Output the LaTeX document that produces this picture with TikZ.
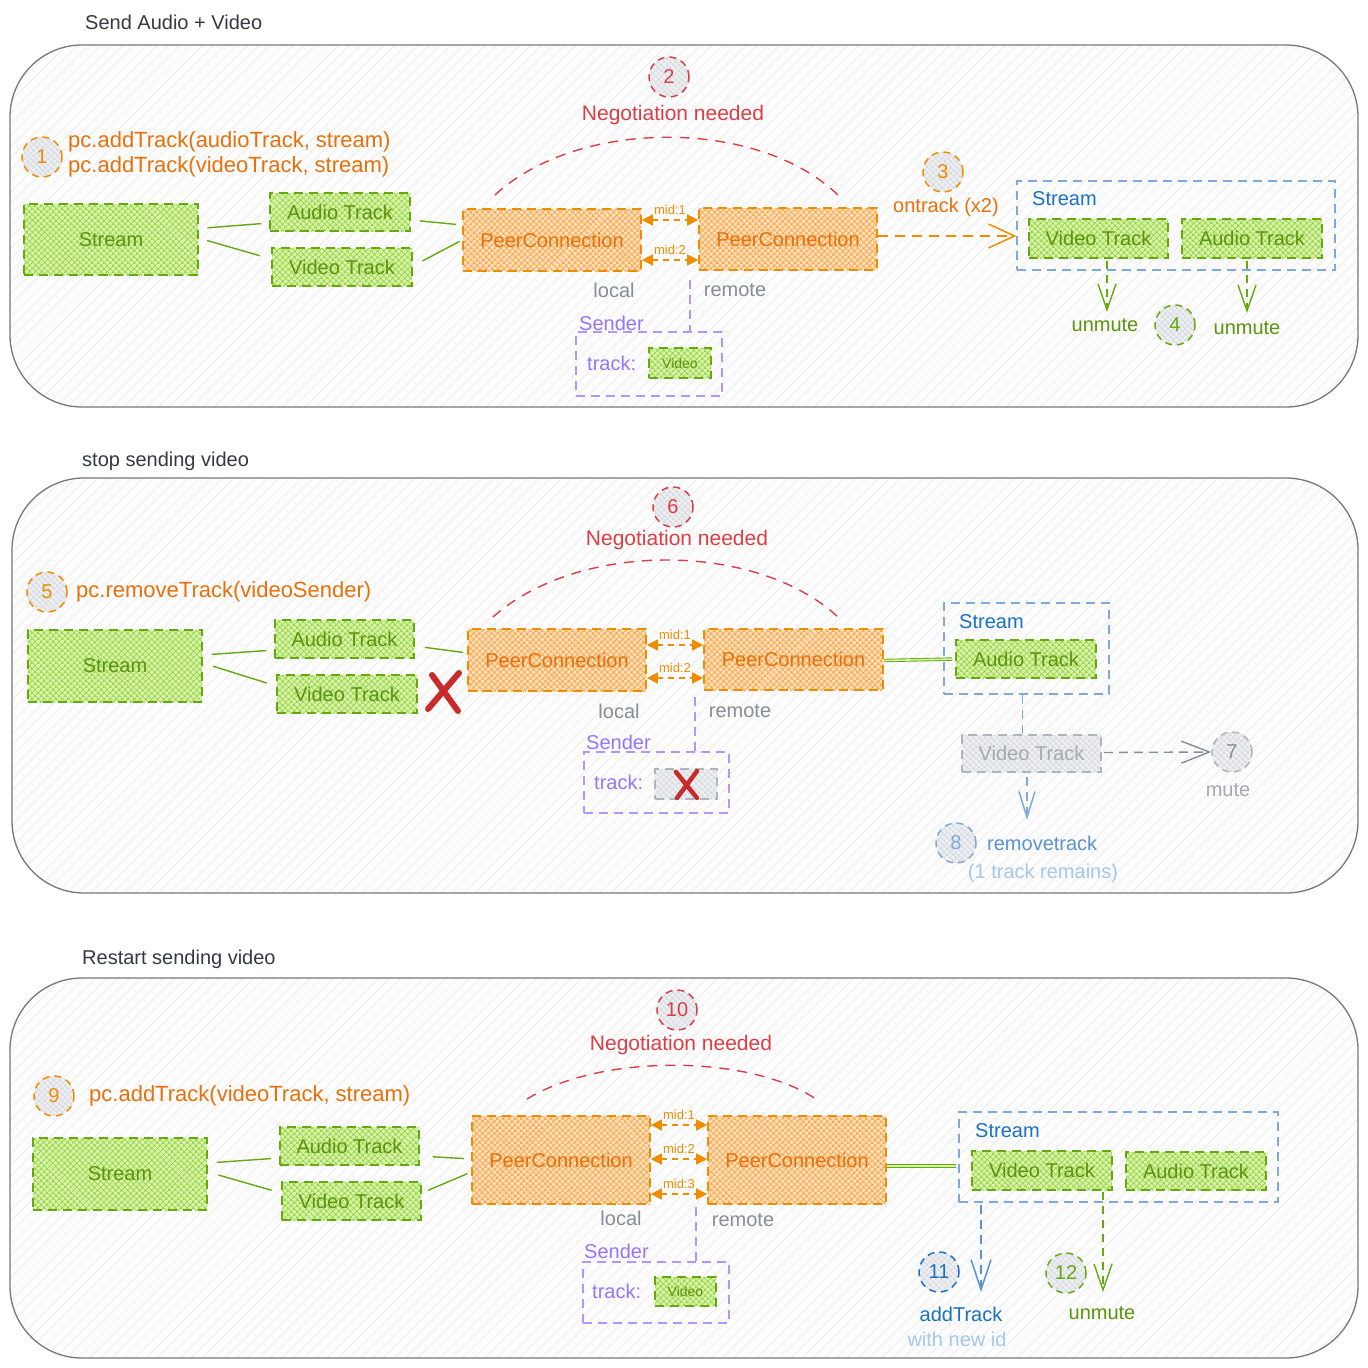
\documentclass[tikz,border=0pt]{standalone}
\usepackage{fontspec}
\setmainfont{Liberation Sans}
\usetikzlibrary{arrows.meta,patterns.meta,calc}
\definecolor{gstroke}{HTML}{66A80F}
\definecolor{gtext}{HTML}{5C940D}
\definecolor{gbase}{HTML}{D6F2A8}
\definecolor{gpat}{HTML}{94D23F}
\definecolor{ostroke}{HTML}{F08C00}
\definecolor{otext}{HTML}{E8700A}
\definecolor{obase}{HTML}{FFDDB5}
\definecolor{opat}{HTML}{FFA043}
\definecolor{nred}{HTML}{DC3E45}
\definecolor{xred}{HTML}{C92A2A}
\definecolor{bstroke}{HTML}{7FA9DB}
\definecolor{btext}{HTML}{1971C2}
\definecolor{bmid}{HTML}{5B93CF}
\definecolor{blight}{HTML}{A5C8EC}
\definecolor{pstroke}{HTML}{B197FC}
\definecolor{ptext}{HTML}{9775FA}
\definecolor{gtxt}{HTML}{868E96}
\definecolor{graystroke}{HTML}{ADB5BD}
\definecolor{graytext}{HTML}{A4AAB0}
\definecolor{cbase}{HTML}{ECEEF1}
\definecolor{cpat}{HTML}{D3D7DC}
\definecolor{panelline}{HTML}{777777}
\definecolor{panelbase}{HTML}{FCFCFC}
\definecolor{panelpat}{HTML}{E8E8E8}
\definecolor{titletext}{HTML}{343A40}
\newcommand\fz[1]{\fontsize{#1}{#1}\selectfont}
\tikzset{
 panel/.style={draw=panelline, line width=1.3pt, rounded corners=72pt, preaction={fill=panelbase}, pattern={Lines[angle=45,distance=8pt,line width=0.5pt]}, pattern color=panelpat},
 hbox/.style={rectangle, line width=1.6pt, dash pattern=on 9pt off 6pt, inner sep=0pt, font=\fz{20}},
 gbx/.style={hbox, draw=gstroke, text=gtext, preaction={fill=gbase}, pattern={Hatch[angle=45,distance=4pt,line width=0.8pt]}, pattern color=gpat},
 obx/.style={hbox, draw=ostroke, text=otext, preaction={fill=obase}, pattern={Hatch[angle=45,distance=4pt,line width=0.8pt]}, pattern color=opat},
 graybx/.style={hbox, draw=graystroke, text=graytext, preaction={fill=cbase}, pattern={Hatch[angle=45,distance=4pt,line width=0.6pt]}, pattern color=cpat},
 bluebx/.style={rectangle, draw=bstroke, line width=1.4pt, dash pattern=on 9pt off 6pt, inner sep=0pt},
 sendbx/.style={rectangle, draw=pstroke, line width=1.4pt, dash pattern=on 9pt off 6pt, inner sep=0pt},
 numc/.style={circle, draw=#1, text=#1, line width=1.5pt, dash pattern=on 7pt off 5pt, minimum size=40pt, inner sep=0pt, font=\fz{20}, preaction={fill=cbase}, pattern={Hatch[angle=45,distance=4pt,line width=0.6pt]}, pattern color=cpat},
 lbl/.style={font=\fz{20}, inner sep=0pt},
 codelbl/.style={font=\fontsize{22}{25}\selectfont, inner sep=0pt, text=otext},
 neglbl/.style={font=\fz{21}, inner sep=0pt, text=nred},
 mlabel/.style={font=\fz{13}, text=ostroke, inner sep=0pt},
 conn/.style={draw=gstroke, line width=1.4pt},
 dconn/.style={draw=gstroke, line width=0.9pt, double=gbase, double distance=1.6pt},
 midarr/.style={draw=ostroke, line width=1.4pt, dash pattern=on 6pt off 5pt, {Triangle[length=11pt,width=11pt]}-{Triangle[length=11pt,width=11pt]}},
 oarr/.style={draw=ostroke, line width=1.5pt, dash pattern=on 10pt off 7pt, -{Straight Barb[length=26pt,width=24pt]}},
 garr/.style={draw=gstroke, line width=1.4pt, dash pattern=on 8pt off 6pt, -{Straight Barb[length=26pt,width=18pt]}},
 grarr/.style={draw=gtxt, line width=1.4pt, dash pattern=on 9pt off 6pt, -{Straight Barb[length=28pt,width=22pt]}},
 barr/.style={draw=bstroke, line width=1.5pt, dash pattern=on 9pt off 6pt, -{Straight Barb[length=26pt,width=16pt]}},
 bdarr/.style={draw=bmid, line width=1.5pt, dash pattern=on 9pt off 6pt, -{Straight Barb[length=30pt,width=20pt]}},
 bline/.style={draw=bstroke, line width=1.5pt, dash pattern=on 9pt off 6pt},
 pline/.style={draw=pstroke, line width=1.4pt, dash pattern=on 9pt off 6pt},
 negarc/.style={draw=nred, line width=1.4pt, dash pattern=on 10pt off 8pt},
 xmark/.style={draw=xred, line width=#1, line cap=round},
}
\begin{document}
\begin{tikzpicture}[x=1pt,y=-1pt]
\useasboundingbox (0,0) rectangle (1368,1368);
\fill[white] (0,0) rectangle (1368,1368);

% ===== panels =====
\draw[panel] (10,45) rectangle (1358,407);
\draw[panel] (12,478) rectangle (1358,893);
\draw[panel] (10,978) rectangle (1358,1358);
\node[lbl, anchor=west, text=titletext] (t1) at (85,22) {Send Audio + Video};
\node[lbl, anchor=west, text=titletext] (t2) at (82,461) {stop sending video};
\node[lbl, anchor=west, text=titletext] (t3) at (82,959) {Restart sending video};

% ===== panel 1 =====
\node[numc=ostroke] (c1) at (42,157) {1};
\node[codelbl, anchor=west, align=left] (code1) at (68,154.5) {pc.addTrack(audioTrack, stream)\\pc.addTrack(videoTrack, stream)};
\node[gbx, minimum width=174pt, minimum height=71pt] (s1) at (111,239.5) {Stream};
\node[gbx, minimum width=140pt, minimum height=38pt] (a1) at (340,212) {Audio Track};
\node[gbx, minimum width=140pt, minimum height=38pt] (v1) at (342,267) {Video Track};
\node[obx, minimum width=178pt, minimum height=62pt] (pl1) at (552,240) {PeerConnection};
\node[obx, minimum width=178pt, minimum height=62pt] (pr1) at (788,239) {PeerConnection};
\draw[conn, shorten <=9pt, shorten >=8pt] ([yshift=11pt]s1.east) -- ([yshift=-11pt]a1.west);
\draw[conn, shorten <=9pt, shorten >=12pt] ([yshift=1.5pt]s1.east) -- ([yshift=8pt]v1.west);
\draw[conn, shorten <=9pt, shorten >=6pt] ([yshift=-8pt]a1.east) -- ([yshift=15pt]pl1.west);
\draw[conn, shorten <=11pt, shorten >=3pt] ([yshift=1pt]v1.east) -- (pl1.west);
\draw[midarr] ([yshift=20pt]pl1.east) -- ([yshift=19pt]pr1.west) node[midway, above=5pt, mlabel] {mid:1};
\draw[midarr] ([yshift=-20pt]pl1.east) -- ([yshift=-21pt]pr1.west) node[midway, above=5pt, mlabel] {mid:2};
\node[lbl, text=gtxt] (loc1) at (614,290) {local};
\node[lbl, text=gtxt] (rem1) at (735,290) {remote};
\node[sendbx, minimum width=146pt, minimum height=64pt] (snd1) at (649,364) {};
\node[lbl, anchor=west, text=ptext] (sl1) at (579,323) {Sender};
\node[lbl, anchor=west, text=ptext] (tk1) at (587,363) {track:};
\node[gbx, minimum width=62pt, minimum height=30pt, font=\fz{14}] (sv1) at (680,363) {Video};
\coordinate (sd1) at (690,280);
\draw[pline] (sd1) -- (sd1 |- snd1.north);
\coordinate (n1a) at (495,195); \coordinate (n1b) at (838,195);
\draw[negarc] (n1a) .. controls (578,118) and (758,118) .. (n1b);
\node[numc=nred] (c2) at (669,77) {2};
\node[neglbl] (neg1) at (673,115) {Negotiation needed};
\node[numc=ostroke] (c3) at (943,172) {3};
\node[lbl, text=otext] (ont) at (946,207) {ontrack (x2)};
\node[bluebx, minimum width=318pt, minimum height=89pt] (sb1) at (1176,225.5) {};
\node[lbl, anchor=west, text=btext] (sbl1) at (1032,199) {Stream};
\node[gbx, minimum width=139pt, minimum height=39pt] (rv1) at (1098.5,238.5) {Video Track};
\node[gbx, minimum width=140pt, minimum height=39pt] (ra1) at (1252,238.5) {Audio Track};
\draw[oarr] ([yshift=3pt]pr1.east) -- ([yshift=-10.5pt]sb1.west);
\coordinate (u1a) at (1107,312); \coordinate (u1b) at (1247,313);
\draw[garr] ([yshift=-2pt]rv1.south -| u1a) -- (u1a);
\draw[garr] ([yshift=-2pt]ra1.south -| u1b) -- (u1b);
\node[lbl, text=gtext] (um1) at (1105,325) {unmute};
\node[numc=gstroke] (c4) at (1175,325) {4};
\node[lbl, text=gtext] (um2) at (1247,328) {unmute};

% ===== panel 2 =====
\node[numc=ostroke] (c5) at (47,592) {5};
\node[codelbl, anchor=west] (code2) at (76,592) {pc.removeTrack(videoSender)};
\node[gbx, minimum width=174pt, minimum height=72pt] (s2) at (115,666) {Stream};
\node[gbx, minimum width=139pt, minimum height=38pt] (a2) at (344.5,639) {Audio Track};
\node[gbx, minimum width=140pt, minimum height=38pt] (v2) at (347,694) {Video Track};
\node[obx, minimum width=178pt, minimum height=62pt] (pl2) at (557,660) {PeerConnection};
\node[obx, minimum width=179pt, minimum height=61pt] (pr2) at (793.5,659.5) {PeerConnection};
\draw[conn, shorten <=9pt, shorten >=8pt] ([yshift=11pt]s2.east) -- ([yshift=-11pt]a2.west);
\draw[conn, shorten <=11pt, shorten >=10pt] ([yshift=3pt]s2.east) -- ([yshift=8pt]v2.west);
\draw[conn, shorten <=10pt, shorten >=4pt] ([yshift=-7pt]a2.east) -- ([yshift=7pt]pl2.west);
\draw[xmark=6pt] (432,675) -- (458,711);
\draw[xmark=6pt] (459,673) -- (428,709);
\draw[midarr] ([yshift=15pt]pl2.east) -- ([yshift=14.5pt]pr2.west) node[midway, above=5pt, mlabel] {mid:1};
\draw[midarr] ([yshift=-18pt]pl2.east) -- ([yshift=-18.5pt]pr2.west) node[midway, above=5pt, mlabel] {mid:2};
\node[lbl, text=gtxt] (loc2) at (619,711) {local};
\node[lbl, text=gtxt] (rem2) at (740,711) {remote};
\node[sendbx, minimum width=145pt, minimum height=61pt] (snd2) at (656.5,782.5) {};
\node[lbl, anchor=west, text=ptext] (sl2) at (586,742) {Sender};
\node[lbl, anchor=west, text=ptext] (tk2) at (594,782) {track:};
\node[graybx, minimum width=62pt, minimum height=30pt] (sx2) at (686,784) {};
\draw[xmark=4.5pt] (676,772) -- (697,798);
\draw[xmark=4.5pt] (697,771) -- (677,798);
\coordinate (sd2) at (695,697);
\draw[pline] (sd2) -- (sd2 |- snd2.north);
\coordinate (n2a) at (493,617); \coordinate (n2b) at (838,617);
\draw[negarc] (n2a) .. controls (578,541) and (756,541) .. (n2b);
\node[numc=nred] (c6) at (673,507) {6};
\node[neglbl] (neg2) at (677,540) {Negotiation needed};
\node[bluebx, minimum width=165pt, minimum height=91pt] (sb2) at (1026.5,648.5) {};
\node[lbl, anchor=west, text=btext] (sbl2) at (959,622) {Stream};
\node[gbx, minimum width=140pt, minimum height=38pt] (ra2) at (1026,659) {Audio Track};
\draw[dconn, shorten >=3pt] ([yshift=-1pt]pr2.east) -- (ra2.west);
\node[graybx, minimum width=139pt, minimum height=37pt] (gv2) at (1031.5,753.5) {Video Track};
\draw[bline] ([xshift=-4pt]sb2.south) -- ([xshift=-9pt]gv2.north);
\node[numc=graystroke, text=gtxt] (c7) at (1232,752) {7};
\draw[grarr, shorten <=2pt] ([yshift=1pt]gv2.east) -- (c7.west);
\node[lbl, text=graytext] (mute) at (1228,790) {mute};
\coordinate (r8) at (1027,820);
\draw[barr] ([yshift=-4pt]gv2.south -| r8) -- (r8);
\node[numc=bstroke, text=bstroke] (c8) at (956,843) {8};
\node[lbl, anchor=west, text=bmid] (rmt) at (987,843) {removetrack};
\node[lbl, text=blight] (rem) at (1043,873) {(1 track remains)};

% ===== panel 3 =====
\node[numc=ostroke] (c9) at (54,1096) {9};
\node[codelbl, anchor=west] (code3) at (89,1096) {pc.addTrack(videoTrack, stream)};
\node[gbx, minimum width=174pt, minimum height=72pt] (s3) at (120,1174) {Stream};
\node[gbx, minimum width=139pt, minimum height=38pt] (a3) at (349.5,1146) {Audio Track};
\node[gbx, minimum width=139pt, minimum height=38pt] (v3) at (351.5,1201) {Video Track};
\node[obx, minimum width=178pt, minimum height=88pt] (pl3) at (561,1160) {PeerConnection};
\node[obx, minimum width=178pt, minimum height=88pt] (pr3) at (797,1160) {PeerConnection};
\draw[conn, shorten <=9pt, shorten >=8pt] ([yshift=11pt]s3.east) -- ([yshift=-12pt]a3.west);
\draw[conn, shorten <=11pt, shorten >=10pt] ([yshift=2pt]s3.east) -- ([yshift=8pt]v3.west);
\draw[conn, shorten <=13pt, shorten >=7pt] ([yshift=-10pt]a3.east) -- ([yshift=1pt]pl3.west);
\draw[conn, shorten <=7pt, shorten >=4pt] ([yshift=8pt]v3.east) -- ([yshift=-12pt]pl3.west);
\draw[midarr] ([yshift=35pt]pl3.east) -- ([yshift=35pt]pr3.west) node[midway, above=5pt, mlabel] {mid:1};
\draw[midarr] ([yshift=1pt]pl3.east) -- ([yshift=1pt]pr3.west) node[midway, above=5pt, mlabel] {mid:2};
\draw[midarr] ([yshift=-34pt]pl3.east) -- ([yshift=-34pt]pr3.west) node[midway, above=5pt, mlabel] {mid:3};
\node[lbl, text=gtxt] (loc3) at (621,1218) {local};
\node[lbl, text=gtxt] (rem3) at (743,1220) {remote};
\node[sendbx, minimum width=146pt, minimum height=61pt] (snd3) at (656,1292.5) {};
\node[lbl, anchor=west, text=ptext] (sl3) at (584,1251) {Sender};
\node[lbl, anchor=west, text=ptext] (tk3) at (592,1291) {track:};
\node[gbx, minimum width=61pt, minimum height=29pt, font=\fz{14}] (sv3) at (685.5,1291.5) {Video};
\coordinate (sd3) at (696,1207);
\draw[pline] (sd3) -- (sd3 |- snd3.north);
\coordinate (n3a) at (527,1099); \coordinate (n3b) at (816,1099);
\draw[negarc] (n3a) .. controls (600,1054) and (748,1054) .. (n3b);
\node[numc=nred] (c10) at (677,1010) {10};
\node[neglbl] (neg3) at (681,1045) {Negotiation needed};
\node[bluebx, minimum width=319pt, minimum height=90pt] (sb3) at (1118.5,1157) {};
\node[lbl, anchor=west, text=btext] (sbl3) at (975,1131) {Stream};
\node[gbx, minimum width=140pt, minimum height=39pt] (rv3) at (1042,1170.5) {Video Track};
\node[gbx, minimum width=140pt, minimum height=38pt] (ra3) at (1196,1171) {Audio Track};
\draw[dconn, shorten >=2pt] ([yshift=-6pt]pr3.east) -- ([yshift=-9pt]sb3.west);
\coordinate (r11) at (981,1292);
\draw[bdarr] ([yshift=-2pt]sb3.south -| r11) -- (r11);
\coordinate (r12) at (1103,1292);
\draw[garr] ([yshift=-1pt]rv3.south -| r12) -- (r12);
\node[numc=btext] (c11) at (939,1272) {11};
\node[lbl, text=btext] (addt) at (961,1314) {addTrack};
\node[lbl, text=blight] (newid) at (957,1339) {with new id};
\node[numc=gstroke] (c12) at (1066,1273) {12};
\node[lbl, text=gtext] (um3) at (1102,1313) {unmute};
\end{tikzpicture}
\end{document}
